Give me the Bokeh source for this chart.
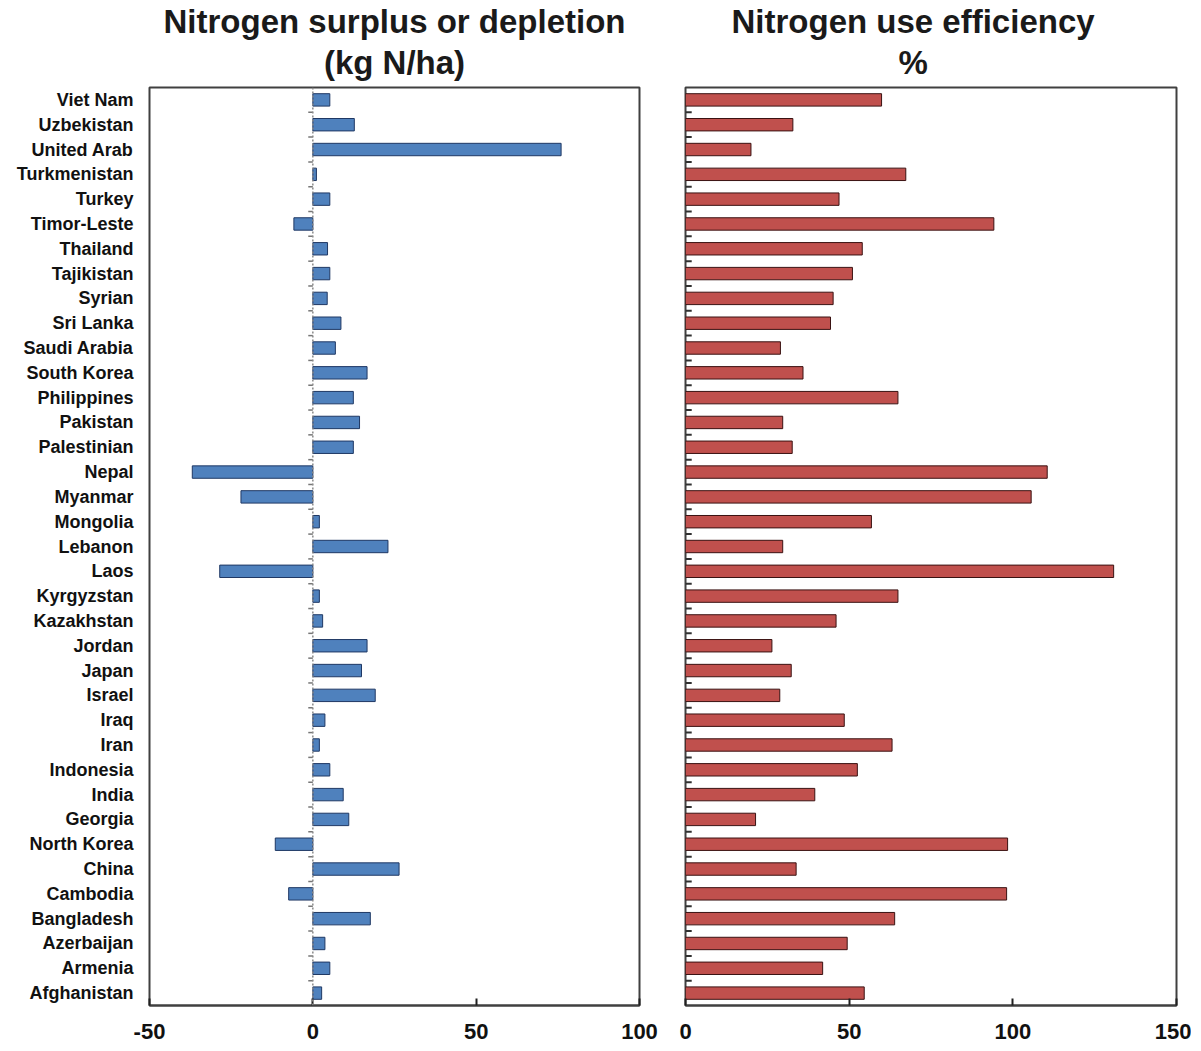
from bokeh.plotting import figure
from bokeh.layouts import row
from bokeh.models import Range1d, FixedTicker, Span, Title, ColumnDataSource
from bokeh.embed import file_html
from bokeh.resources import INLINE

# Data (top to bottom as shown)
countries = ["Viet Nam", "Uzbekistan", "United Arab", "Turkmenistan", "Turkey", "Timor-Leste",
             "Thailand", "Tajikistan", "Syrian", "Sri Lanka", "Saudi Arabia", "South Korea",
             "Philippines", "Pakistan", "Palestinian", "Nepal", "Myanmar", "Mongolia", "Lebanon",
             "Laos", "Kyrgyzstan", "Kazakhstan", "Jordan", "Japan", "Israel", "Iraq", "Iran",
             "Indonesia", "India", "Georgia", "North Korea", "China", "Cambodia", "Bangladesh",
             "Azerbaijan", "Armenia", "Afghanistan"]
surplus = [5.2, 12.7, 76, 1.1, 5.2, -5.8, 4.5, 5.2, 4.4, 8.6, 6.9, 16.6, 12.4, 14.3, 12.4,
           -36.9, -22, 2, 23, -28.5, 2, 3, 16.6, 14.9, 19.1, 3.7, 2, 5.2, 9.3, 11, -11.5,
           26.4, -7.4, 17.6, 3.7, 5.2, 2.7]
efficiency = [59.9, 32.8, 20, 67.3, 46.9, 94.2, 54, 51, 45.1, 44.3, 29, 35.9, 64.9, 29.7, 32.6,
              110.5, 105.6, 56.8, 29.7, 130.8, 64.9, 46, 26.4, 32.3, 28.8, 48.5, 63.1, 52.5,
              39.5, 21.4, 98.4, 33.8, 98.1, 63.9, 49.4, 41.9, 54.6]
x1_ticks = [-50, 0, 50, 100]
x1_labels = ["-50", "0", "50", "100"]
x2_ticks = [0, 50, 100, 150]
x2_labels = ["0", "50", "100", "150"]

n = len(countries)
ypos = [n - 1 - i for i in range(n)]
boundaries = [k + 0.5 for k in range(n - 1)]

src = ColumnDataSource(dict(y=ypos, country=countries, surplus=surplus, efficiency=efficiency))

FONT = "Liberation Sans"
OUT = "#404040"
TFS = "33px"


def style(p, ticks, labels):
    p.xgrid.visible = False
    p.ygrid.visible = False
    p.outline_line_color = OUT
    p.outline_line_width = 2
    p.background_fill_color = "white"
    p.border_fill_color = "white"
    ax = p.xaxis[0]
    ax.ticker = FixedTicker(ticks=ticks)
    ax.major_label_overrides = {t: l for t, l in zip(ticks, labels)}
    ax.major_tick_in = 7
    ax.major_tick_out = 0
    ax.minor_tick_line_color = None
    ax.axis_line_color = OUT
    ax.axis_line_width = 2
    ax.major_tick_line_color = "#202020"
    ax.major_tick_line_width = 2
    ax.major_label_text_font = FONT
    ax.major_label_text_font_style = "bold"
    ax.major_label_text_font_size = "22px"
    ax.major_label_text_color = "#111111"
    ax.major_label_standoff = 18


def mk_title(text, align, off, standoff):
    return Title(text=text, align=align, text_font=FONT, text_font_style="bold",
                 text_font_size=TFS, text_color="#1a1a1a", offset=off, standoff=standoff)


# Left panel
p1 = figure(width=659, height=1045, output_backend="svg", toolbar_location=None,
            x_range=Range1d(-50, 100), y_range=Range1d(-0.5, n - 0.5),
            min_border_left=149, min_border_right=20, min_border_top=87, min_border_bottom=40)
style(p1, x1_ticks, x1_labels)
p1.add_layout(mk_title("(kg N/ha)", "center", 0, 14), "above")
p1.add_layout(mk_title("Nitrogen surplus or depletion", "center", 0, -10), "above")
ya = p1.yaxis[0]
ya.ticker = FixedTicker(ticks=ypos)
ya.major_label_overrides = {y: c for y, c in zip(ypos, countries)}
ya.axis_line_color = None
ya.major_tick_line_color = None
ya.major_tick_out = 0
ya.major_tick_in = 0
ya.minor_tick_line_color = None
ya.major_label_text_font = FONT
ya.major_label_text_font_style = "bold"
ya.major_label_text_font_size = "18px"
ya.major_label_text_color = "#111111"
ya.major_label_standoff = 16

p1.add_layout(Span(location=0, dimension="height", line_color="#8a8a8a", line_width=1.5,
                   line_dash="2 2"))
p1.segment(x0=[-1.4] * len(boundaries), x1=[0] * len(boundaries), y0=boundaries, y1=boundaries,
           line_color="#777777", line_width=1.5)
p1.hbar(y="y", right="surplus", left=0, height=0.5, source=src,
        fill_color="#4F81BD", line_color="#1F3864", line_width=1)

# Right panel
p2 = figure(width=532, height=1045, output_backend="svg", toolbar_location=None,
            x_range=Range1d(0, 150), y_range=Range1d(-0.5, n - 0.5),
            min_border_left=26, min_border_right=15, min_border_top=87, min_border_bottom=40)
style(p2, x2_ticks, x2_labels)
p2.add_layout(mk_title("%", "left", 213, 14), "above")
p2.add_layout(mk_title("Nitrogen use efficiency", "left", 46, -10), "above")
p2.yaxis.visible = False
p2.segment(x0=[0] * len(boundaries), x1=[1.9] * len(boundaries), y0=boundaries, y1=boundaries,
           line_color="#303030", line_width=2)
p2.hbar(y="y", right="efficiency", left=0, height=0.5, source=src,
        fill_color="#C0504D", line_color="#3a1212", line_width=1)

layout = row(p1, p2)
open("out.html", "w").write(file_html(layout, INLINE))
